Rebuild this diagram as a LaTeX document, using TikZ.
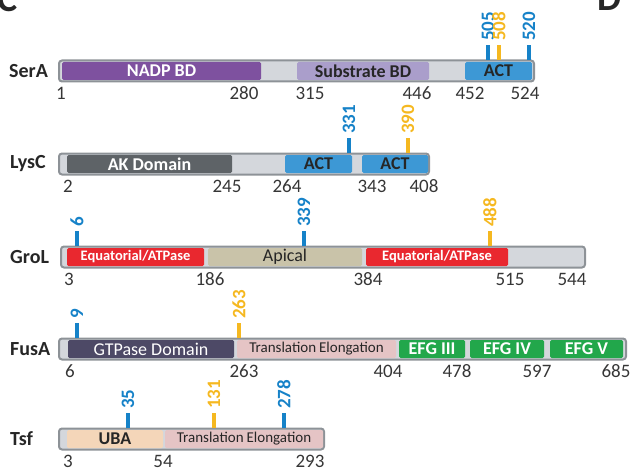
\documentclass[tikz,border=0pt]{standalone}
\usepackage{fontspec}
\setmainfont{Carlito}
\usetikzlibrary{calc}

\definecolor{framegray}{HTML}{8D9297}
\definecolor{gapgray}{HTML}{D4D7DC}
\definecolor{inkdark}{HTML}{262626}
\definecolor{numink}{HTML}{363636}
\definecolor{nadp}{HTML}{7E519F}
\definecolor{substrate}{HTML}{AA9ECB}
\definecolor{act}{HTML}{3D98D5}
\definecolor{akdom}{HTML}{5E6367}
\definecolor{equat}{HTML}{E9282F}
\definecolor{apical}{HTML}{C9C3A9}
\definecolor{gtpase}{HTML}{4D4966}
\definecolor{transel}{HTML}{E5C4C5}
\definecolor{efg}{HTML}{22A74B}
\definecolor{uba}{HTML}{F4D6B9}
\definecolor{siteblue}{HTML}{1682C8}
\definecolor{siteyellow}{HTML}{F5B820}

% protein bar frame: name, x1, x2, top
\newcommand\protbar[4]{%
  \pgfmathsetmacro\barW{#3-#2-2}\pgfmathsetmacro\barX{(#2+#3)/2}%
  \node[framebox, minimum width=\barW pt] (#1) at (\barX, #4+11) {};}
% domain box: name, x1, x2, top, fill, font, text colour, text
\newcommand\domain[8]{%
  \pgfmathsetmacro\domW{#3-#2}\pgfmathsetmacro\domX{(#2+#3)/2}%
  \node[dombox, fill=#5, minimum width=\domW pt, font=#6, text=#7] (#1) at (\domX, #4+11) {#8};}
% residue number under a bar: row, number, x, top
\newcommand\resnum[4]{%
  \node[numtext] (#1-n#2) at (#3, #4+33) {#2};}
% mutation site: row, residue, x, top, colour
\newcommand\site[5]{%
  \coordinate (#1-s#2) at (#3, #4);
  \node[sitetext, text=#5] (#1-t#2) at (#3, #4-19) {#2};
  \draw[sitestick, draw=#5] (#1-s#2) -- ($(#1-t#2.west)+(0,4)$);}

\begin{document}
\begin{tikzpicture}[x=1pt, y=-1pt,
  framebox/.style={draw=framegray, line width=2pt, fill=gapgray,
    rounded corners=3pt, minimum height=21pt, inner sep=0pt, outer sep=0pt},
  dombox/.style={minimum height=18pt, inner sep=0pt, rounded corners=1.5pt},
  rowlabel/.style={anchor=west, inner sep=0pt, text=inkdark,
    font=\fontsize{20}{20}\selectfont\bfseries},
  numtext/.style={inner sep=0pt, text=numink, font=\fontsize{19}{19}\selectfont},
  sitetext/.style={rotate=90, anchor=west, inner sep=0pt,
    font=\fontsize{19}{19}\selectfont\bfseries},
  sitestick/.style={line width=3.5pt, line cap=butt},
  panel/.style={anchor=base west, inner sep=0pt, text=inkdark,
    font=\fontsize{38}{38}\selectfont\bfseries}
]
\useasboundingbox (0,0) rectangle (631,468);

\def\wb{\fontsize{18}{18}\selectfont\bfseries}
\def\wr{\fontsize{18}{18}\selectfont}
\def\sm{\fontsize{14.5}{14.5}\selectfont\bfseries}
\def\te{\fontsize{15}{15}\selectfont}

% panel letters
\node[panel] (panelC) at (-3, 12) {C};
\node[panel] (panelD) at (597, 11) {D};

% ---- SerA ----
\node[rowlabel] (SerA-label) at (9, 71) {SerA};
\protbar{SerA}{58}{535}{60}
\domain{SerA-nadp}{62}{261}{60}{nadp}{\wb}{white}{NADP BD}
\domain{SerA-sub}{297}{429}{60}{substrate}{\wb}{inkdark}{Substrate BD}
\domain{SerA-act}{465}{532}{60}{act}{\wb}{inkdark}{ACT}
\resnum{SerA}{1}{61}{60}
\resnum{SerA}{280}{244}{60}
\resnum{SerA}{315}{310}{60}
\resnum{SerA}{446}{417}{60}
\resnum{SerA}{452}{470}{60}
\resnum{SerA}{524}{525}{60}
\site{SerA}{505}{488}{60}{siteblue}
\site{SerA}{508}{499}{60}{siteyellow}
\site{SerA}{520}{529}{60}{siteblue}

% ---- LysC ----
\node[rowlabel] (LysC-label) at (10, 164) {LysC};
\protbar{LysC}{58}{430}{153}
\domain{LysC-ak}{67}{232}{153}{akdom}{\wb}{white}{AK Domain}
\domain{LysC-act1}{285}{352}{153}{act}{\wb}{inkdark}{ACT}
\domain{LysC-act2}{362}{428}{153}{act}{\wb}{inkdark}{ACT}
\resnum{LysC}{2}{68}{153}
\resnum{LysC}{245}{227}{153}
\resnum{LysC}{264}{287}{153}
\resnum{LysC}{343}{372}{153}
\resnum{LysC}{408}{424}{153}
\site{LysC}{331}{349}{153}{siteblue}
\site{LysC}{390}{408}{153}{siteyellow}

% ---- GroL ----
\node[rowlabel] (GroL-label) at (10, 257) {GroL};
\protbar{GroL}{60}{586}{246}
\domain{GroL-eq1}{67}{204}{246}{equat}{\sm}{white}{Equatorial/ATPase}
\domain{GroL-api}{208}{362}{246}{apical}{\wr}{inkdark}{Apical}
\domain{GroL-eq2}{366}{508}{246}{equat}{\sm}{white}{Equatorial/ATPase}
\resnum{GroL}{3}{69}{246}
\resnum{GroL}{186}{210}{246}
\resnum{GroL}{384}{368}{246}
\resnum{GroL}{515}{510}{246}
\resnum{GroL}{544}{572}{246}
\site{GroL}{6}{77}{246}{siteblue}
\site{GroL}{339}{304}{246}{siteblue}
\site{GroL}{488}{490}{246}{siteyellow}

% ---- FusA ----
\node[rowlabel] (FusA-label) at (10, 349) {FusA};
\protbar{FusA}{58}{627}{338}
\domain{FusA-gtp}{68}{234}{338}{gtpase}{\wr}{white}{GTPase Domain}
\domain{FusA-te}{237}{396}{338}{transel}{\te}{inkdark}{Translation\hspace{3pt}Elongation}
\domain{FusA-e3}{399}{465}{338}{efg}{\wb}{white}{EFG III}
\domain{FusA-e4}{470}{544}{338}{efg}{\wb}{white}{EFG IV}
\domain{FusA-e5}{550}{623}{338}{efg}{\wb}{white}{EFG V}
\resnum{FusA}{6}{70}{338}
\resnum{FusA}{263}{244}{338}
\resnum{FusA}{404}{388}{338}
\resnum{FusA}{478}{457}{338}
\resnum{FusA}{597}{537}{338}
\resnum{FusA}{685}{616}{338}
\site{FusA}{9}{77}{338}{siteblue}
\site{FusA}{263}{239}{338}{siteyellow}

% ---- Tsf ----
\node[rowlabel] (Tsf-label) at (10, 439) {Tsf};
\protbar{Tsf}{58}{325}{428}
\domain{Tsf-uba}{67}{163}{428}{uba}{\wb}{inkdark}{UBA}
\domain{Tsf-te}{165}{323}{428}{transel}{\te}{inkdark}{Translation\hspace{3pt}Elongation}
\resnum{Tsf}{3}{68}{428}
\resnum{Tsf}{54}{163}{428}
\resnum{Tsf}{293}{310}{428}
\site{Tsf}{35}{128}{428}{siteblue}
\site{Tsf}{131}{214}{428}{siteyellow}
\site{Tsf}{278}{284}{428}{siteblue}
\end{tikzpicture}
\end{document}
